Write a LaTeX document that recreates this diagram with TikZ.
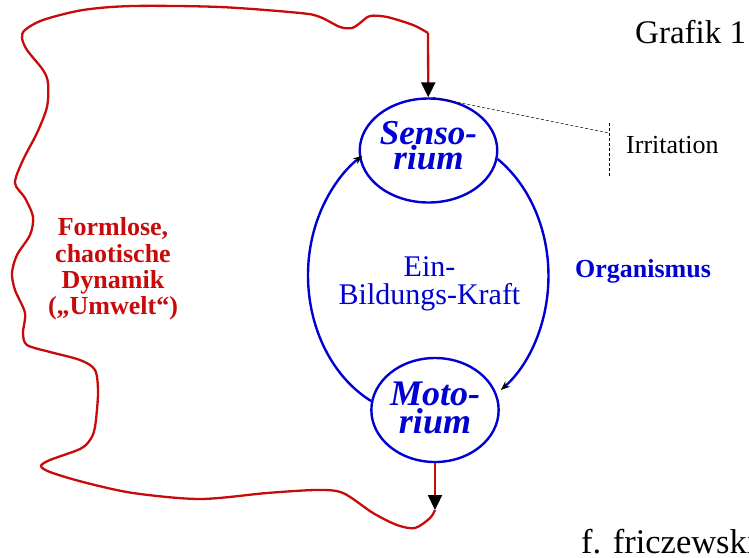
\documentclass[tikz,border=0pt]{standalone}
\usepackage{fontspec}
\setmainfont{Liberation Serif}
\usetikzlibrary{positioning,shapes.geometric,arrows.meta}
\definecolor{umweltred}{RGB}{200,10,10}
\definecolor{orgblue}{RGB}{0,0,210}

\begin{document}
\begin{tikzpicture}[
    x=1pt,y=-1pt,
    organ/.style={ellipse,draw=orgblue,line width=2.4pt,inner sep=0pt,
        minimum width=125pt,minimum height=104pt,text=orgblue,align=center},
    loopline/.style={draw=orgblue,line width=2.4pt,-{Stealth[black,length=9pt,width=7pt]}},
    redline/.style={draw=umweltred,line width=2.3pt,-{Triangle[black,length=15pt,width=14pt]}},
    contour/.style={draw=umweltred,line width=2.3pt},
    irrline/.style={draw=black,line width=0.5pt,dash pattern=on 3pt off 2pt}
]
\useasboundingbox (0,0) rectangle (749,557);

% Sensorium and Motorium
\node[organ,font={\fontsize{35}{23}\selectfont\bfseries\itshape},text depth=10pt]
    (sensorium) at (428.5,150.5) {Senso-\\rium};
\node[organ,font={\fontsize{36}{28}\selectfont\bfseries\itshape},text depth=5pt]
    (motorium) at (435,410) {Moto-\\rium};

% Ein-Bildungs-Kraft loop
\draw[loopline] (motorium.172) arc[start angle=117,end angle=238,x radius=115.5,y radius=141];
\draw[loopline] (sensorium.-7) arc[start angle=-56,end angle=54,x radius=115.5,y radius=141];
\node[text=orgblue,align=center,font={\fontsize{30}{28}\selectfont}] (kraft) at (429.5,284)
    {Ein-\\Bildungs-Kraft};

% Umwelt
\coordinate (c_in) at (428,33);
\coordinate (c_out) at (435,510);
\draw[redline] (motorium) -- (c_out);
\draw[contour] plot[smooth] coordinates {(c_out) (430,518) (415,528) (397,525) (373,513)
    (343,493) (317,490) (267,493) (200,499) (133,493) (83,482) (50,472) (41,466) (50,460)
    (80,449) (90,440) (95,427) (98,393) (95,370) (80,360) (50,352) (27,345) (23,333)
    (25,313) (15,290) (12,273) (17,255) (30,235) (33,217) (25,198) (15,183) (23,160)
    (37,133) (47,107) (48,83) (43,70) (27,50) (22,38) (25,30) (43,20) (83,10) (133,6)
    (220,7) (300,13) (320,17) (340,27) (352,28) (360,23) (370,16) (387,17) (413,25) (c_in)};
\draw[redline] (c_in) -- (sensorium);
\node[text=umweltred,align=center,font={\fontsize{26}{26.3}\selectfont\bfseries}] (umwelt)
    at (113,269) {Formlose,\\chaotische\\Dynamik\\(„Umwelt“)};

% Irritation
\coordinate (irr_top) at (609,123);
\coordinate (irr_mid) at (609,133);
\coordinate (irr_bot) at (609,177);
\draw[irrline] (sensorium.85) -- (irr_mid);
\draw[irrline] (irr_top) -- (irr_bot);
\node[anchor=base west,inner sep=0pt,font={\fontsize{26}{26}\selectfont}] (irritation)
    at (626,153) {Irritation};

% Labels
\node[anchor=base,inner sep=0pt,text=orgblue,font={\fontsize{26}{26}\selectfont\bfseries}]
    (organismus) at (643,277) {Organismus};
\node[anchor=base west,inner sep=0pt,font={\fontsize{33}{33}\selectfont}] (title)
    at (635,43) {Grafik 1};
\node[anchor=base west,inner sep=0pt,font={\fontsize{34.5}{34.5}\selectfont}] (author)
    at (581,553) {f. friczewski};
\end{tikzpicture}
\end{document}
